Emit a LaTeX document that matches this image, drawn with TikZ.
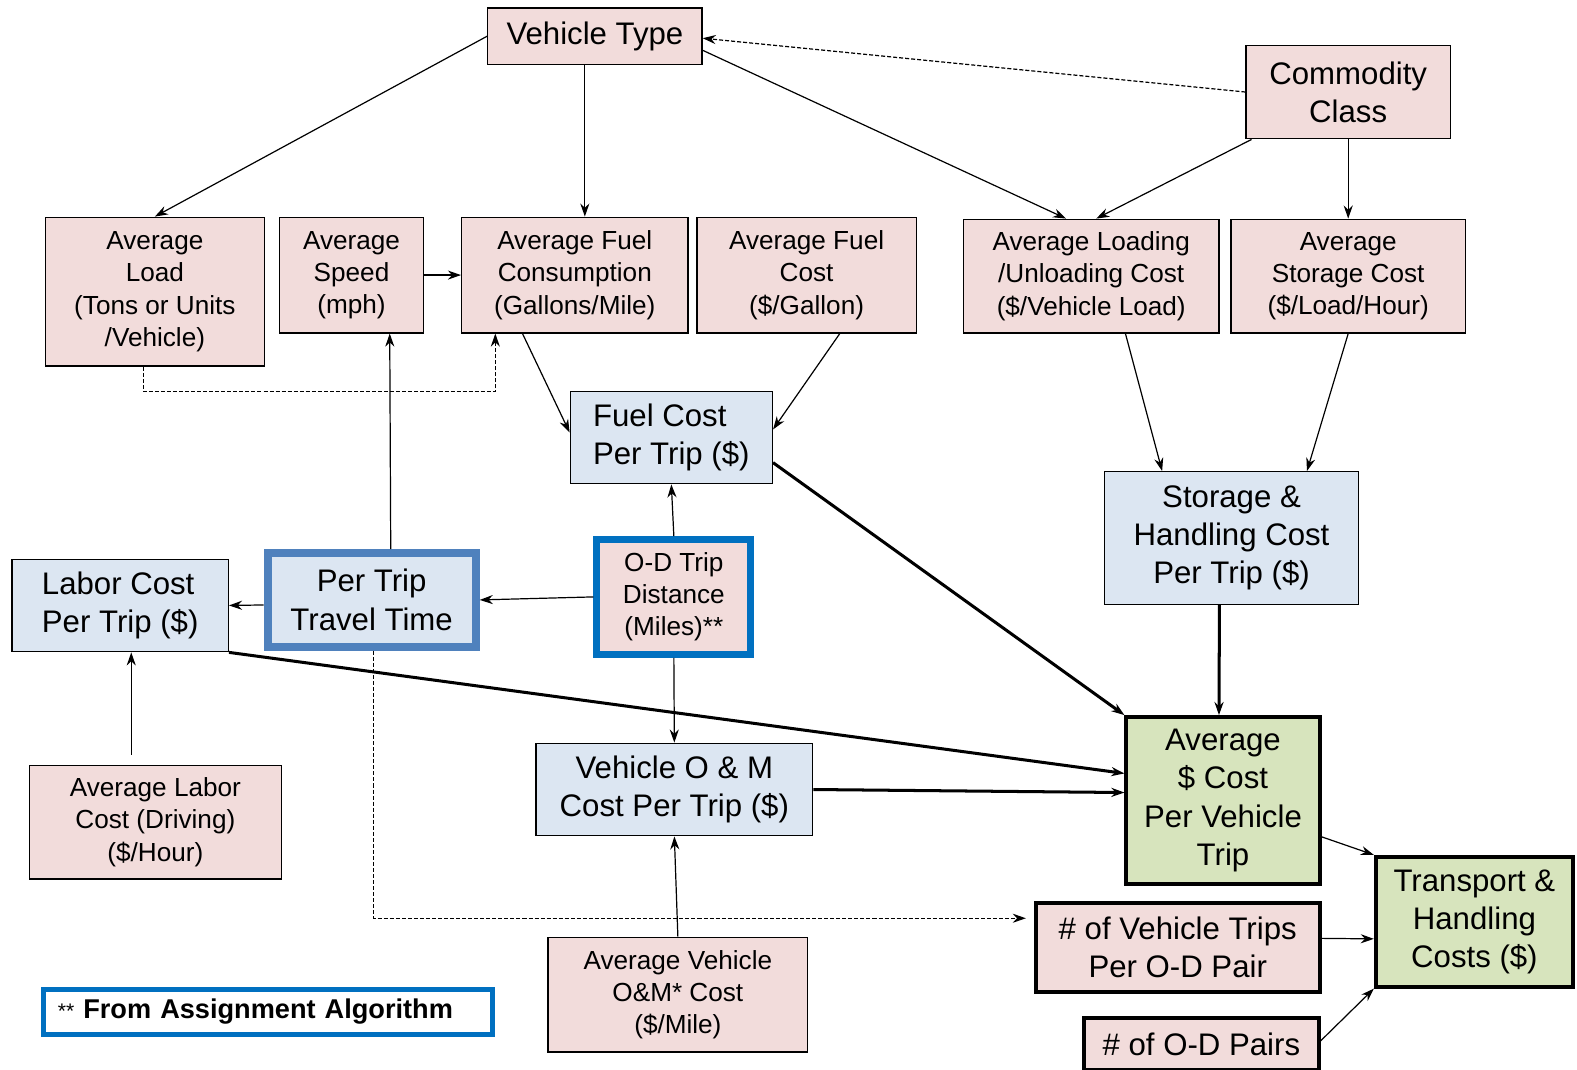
\documentclass[tikz,border=0pt]{standalone}
\usepackage{fontspec}
\setmainfont{Liberation Sans}
\usepackage{tikz}
\usetikzlibrary{arrows.meta}

\definecolor{inpink}{HTML}{F2DCDB}
\definecolor{calcblue}{HTML}{DCE6F2}
\definecolor{outgreen}{HTML}{D7E4BD}
\definecolor{tripblue}{HTML}{4F81BD}
\definecolor{algblue}{HTML}{0070C0}

\newcommand{\txtsmall}{\fontsize{26}{32}\selectfont}
\newcommand{\txtbig}{\fontsize{31}{38}\selectfont}

\begin{document}
\begin{tikzpicture}[x=1pt,y=-1pt,
	>={Stealth[length=13pt,width=9pt]},
	inbox/.style={shape=rectangle,draw=black,fill=inpink,line width=1.3pt,inner sep=2pt,align=center,font=\txtsmall},
	calcbox/.style={shape=rectangle,draw=black,fill=calcblue,line width=1.3pt,inner sep=2pt,align=center,font=\txtbig},
	keybox/.style={shape=rectangle,draw=black,line width=4pt,inner sep=2pt,align=center,font=\txtbig},
	link/.style={line width=1.2pt},
	heavylink/.style={line width=3pt},
	dashlink/.style={line width=1.2pt,dash pattern=on 4pt off 2pt}]
	
	\useasboundingbox (0,0) rectangle (1568,1063);
	\clip (0,0) rectangle (1568,1063);
	
	\node[inbox,font=\txtbig,minimum width=213pt,minimum height=56pt] (vt) at (591.5,36) {Vehicle Type};
	\node[inbox,font=\txtbig,minimum width=203pt,minimum height=93pt] (cc) at (1340.5,91.5) {Commodity\\Class};
	
	\node[inbox,minimum width=218pt,minimum height=148pt] (al) at (154,290) {Average\\Load\\(Tons  or Units\\/Vehicle)};
	\node[inbox,minimum width=143pt,minimum height=115pt] (sp) at (349.5,273.5) {Average\\Speed\\(mph)};
	\node[inbox,minimum width=225pt,minimum height=115pt] (fc) at (571.5,273.5) {Average  Fuel\\Consumption\\(Gallons/Mile)};
	\node[inbox,minimum width=218pt,minimum height=115pt] (fd) at (802,273.5) {Average Fuel\\Cost\\(\$/Gallon)};
	\node[inbox,minimum width=254pt,minimum height=113pt] (ld) at (1085,274.5) {Average Loading\\/Unloading Cost\\(\$/Vehicle Load)};
	\node[inbox,minimum width=233pt,minimum height=113pt] (sc) at (1340.5,274.5) {Average\\Storage Cost\\(\$/Load/Hour)};
	
	\node[calcbox,align=left,minimum width=201pt,minimum height=92pt] (fp) at (667.5,435) {Fuel Cost\\Per Trip (\$)};
	\node[calcbox,minimum width=253pt,minimum height=132pt] (sh) at (1224.5,535) {Storage \&\\Handling Cost\\Per Trip (\$)};
	\node[calcbox,align=left,minimum width=215pt,minimum height=92pt] (lc) at (119.5,602) {Labor Cost\\Per Trip (\$)};
	\node[calcbox,draw=tripblue,line width=8pt,minimum width=207pt,minimum height=93pt] (tt) at (369.5,596.5) {Per Trip\\Travel Time};
	\node[inbox,draw=algblue,line width=7pt,minimum width=153pt,minimum height=114pt] (od) at (670,593.5) {O-D Trip\\Distance\\(Miles)**};
	\node[calcbox,minimum width=275pt,minimum height=92pt] (om) at (670.5,785) {Vehicle O \& M\\Cost Per Trip (\$)};
	
	\node[inbox,minimum width=251pt,minimum height=113pt] (lb) at (154.5,817.5) {Average Labor\\Cost (Driving)\\(\$/Hour)};
	\node[inbox,minimum width=258pt,minimum height=114pt] (vm) at (674,989) {Average Vehicle\\O\&M* Cost\\(\$/Mile)};
	
	\node[keybox,fill=outgreen,minimum width=192pt,minimum height=166pt] (ac) at (1216,796) {Average\\\$ Cost\\Per Vehicle\\Trip};
	\node[keybox,fill=inpink,minimum width=282pt,minimum height=88pt] (vtr) at (1171,942) {\# of Vehicle Trips\\Per O-D Pair};
	\node[keybox,fill=outgreen,minimum width=196pt,minimum height=129pt] (tr) at (1466,916.5) {Transport \&\\Handling\\Costs (\$)};
	\node[keybox,fill=inpink,minimum width=233pt,minimum height=52pt] (odp) at (1194.5,1038) {\# of O-D Pairs};
	
	\node[shape=rectangle,draw=algblue,fill=white,line width=5pt,text width=418pt,inner xsep=14pt,minimum height=45pt,align=left,font=\fontsize{27}{30}\selectfont] (note) at (266.5,1006) {{\fontsize{21}{22}\selectfont **} \textbf{From Assignment Algorithm}};
	
	% inputs
	\path[->,link] (vt.west) edge (al.north);
	\path[->,link] ([xshift=-10pt]vt.south) edge ([xshift=10pt]fc.north);
	\path[->,link] ([yshift=-14pt]vt.east) edge ([xshift=-25pt]ld.north);
	\path[->,dashlink] (cc.west) edge ([yshift=-2pt]vt.east);
	\path[->,link] ([xshift=6pt]cc.south west) edge ([xshift=5pt]ld.north);
	\path[->,link] (cc.south) edge (sc.north);
	\path[->,link] (sp.east) edge (fc.west);
	\draw[->,dashlink] ([xshift=-11pt]al.south) -- ++(0,25) -| ([xshift=-79pt]fc.south);
	
	% per trip costs
	\path[->,link] ([xshift=19pt]tt.north) edge ([xshift=38pt]sp.south);
	\path[->,link] ([xshift=-52pt]fc.south) edge ([yshift=5pt]fp.west);
	\path[->,link] ([xshift=33pt]fd.south) edge ([yshift=8pt]fp.east);
	\path[->,link] (od.north) edge (fp.south);
	\path[->,link] (od.west) edge (tt.east);
	\path[->,link] ([yshift=-5pt]tt.west) edge (lc.east);
	\path[->,link] ([xshift=-24pt,yshift=10pt]lb.north) edge ([xshift=11pt]lc.south);
	\path[->,link] (od.south) edge (om.north);
	\path[->,link] (vm.north) edge (om.south);
	\draw[->,dashlink] ([xshift=2pt]tt.south) |- ([yshift=29pt,xshift=-8pt]vtr.west);
	\path[->,link] ([xshift=34pt]ld.south) edge ([xshift=-69pt]sh.north);
	\path[->,link] (sc.south) edge ([xshift=75pt]sh.north);
	
	% totals
	\path[->,heavylink] ([xshift=-12pt]sh.south) edge ([xshift=-4pt]ac.north);
	\path[->,heavylink] ([yshift=-25pt]fp.east) edge (ac.north west);
	\path[->,heavylink] (lc.south east) edge ([yshift=27pt]ac.west);
	\path[->,heavylink] (om.east) edge ([yshift=8pt]ac.west);
	\path[->,link] ([yshift=-36pt]ac.east) edge (tr.north west);
	\path[->,link] ([yshift=9pt]vtr.east) edge ([yshift=-17pt]tr.west);
	\path[->,link] ([yshift=-25pt]odp.north east) edge (tr.south west);
	
\end{tikzpicture}
\end{document}
